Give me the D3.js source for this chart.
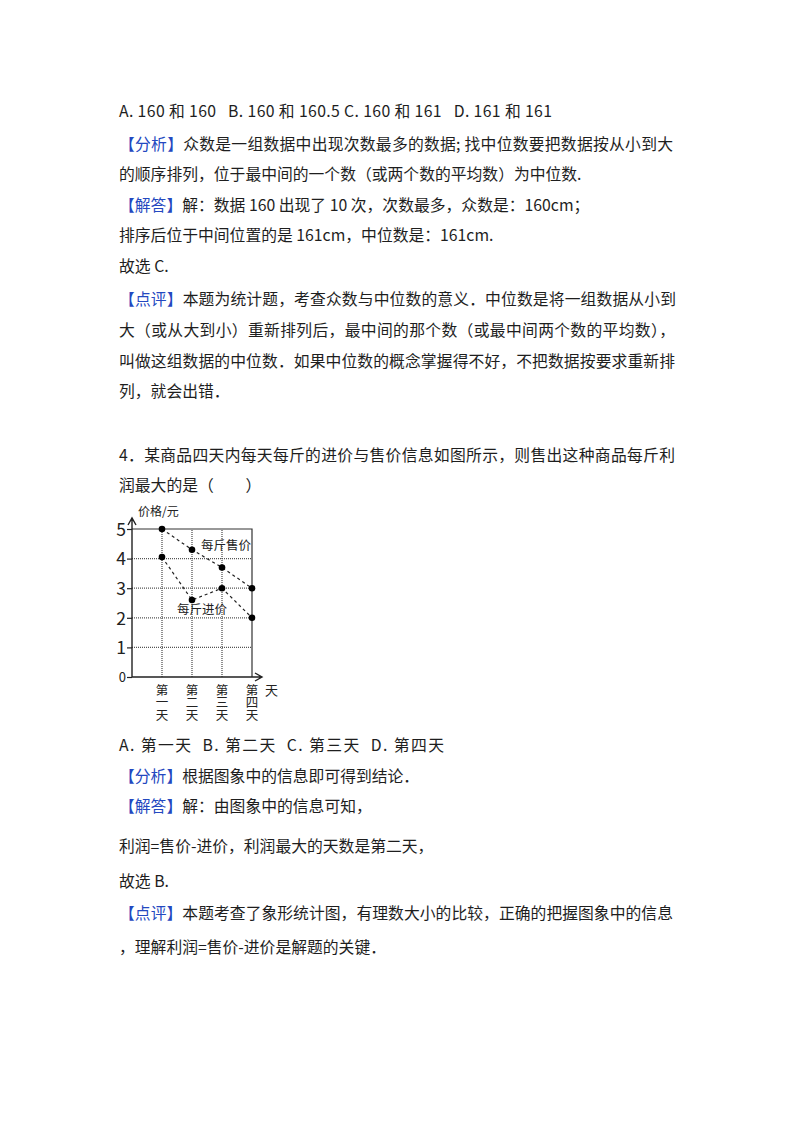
<!DOCTYPE html>
<html lang="zh">
	<head>
		<meta charset="utf-8">
		<title>进价与售价</title>
		<script type="text/javascript" src="https://cdn.jsdelivr.net/npm/d3@7"></script>
		<style type="text/css">
			body { margin: 0; background: #fff; }
			svg { display: block; }
			text { font-family: "Noto Sans CJK SC", "Noto Sans", sans-serif; }
		</style>
	</head>
	<body>
		<script type="text/javascript">
			//Page size
			var w = 794;
			var h = 1123;

			//Chart data
			var days = [1, 2, 3, 4];
			var dayLabels = ["第一天", "第二天", "第三天", "第四天"];
			var sellPrice = [5, 4.3, 3.7, 3];
			var costPrice = [4.05, 2.6, 3, 2];
			var yTicks = [0, 1, 2, 3, 4, 5];

			//Page text, "b" = blue bracket heading
			var lines = [
				{ y: 117, segs: [["A. 160 和 160   B. 160 和 160.5 C. 160 和 161   D. 161 和 161"]], len: 433 },
				{ y: 150, segs: [["【分析】", "b"], ["众数是一组数据中出现次数最多的数据; 找中位数要把数据按从小到大"]], len: 554 },
				{ y: 180, segs: [["的顺序排列，位于最中间的一个数（或两个数的平均数）为中位数."]] },
				{ y: 211, segs: [["【解答】", "b"], ["解：数据 160 出现了 10 次，次数最多，众数是：160cm；"]] },
				{ y: 241, segs: [["排序后位于中间位置的是 161cm，中位数是：161cm."]] },
				{ y: 272, segs: [["故选 C."]] },
				{ y: 305, segs: [["【点评】", "b"], ["本题为统计题，考查众数与中位数的意义．中位数是将一组数据从小到"]], len: 557 },
				{ y: 336, segs: [["大（或从大到小）重新排列后，最中间的那个数（或最中间两个数的平均数），"]], len: 556 },
				{ y: 367, segs: [["叫做这组数据的中位数．如果中位数的概念掌握得不好，不把数据按要求重新排"]], len: 556 },
				{ y: 397, segs: [["列，就会出错．"]] },
				{ y: 461, segs: [["4．某商品四天内每天每斤的进价与售价信息如图所示，则售出这种商品每斤利"]], len: 556 },
				{ y: 491, segs: [["润最大的是（　　）"]] },
				{ y: 751, segs: [["A. 第一天  B. 第二天  C. 第三天  D. 第四天"]], len: 325 },
				{ y: 782, segs: [["【分析】", "b"], ["根据图象中的信息即可得到结论．"]] },
				{ y: 812, segs: [["【解答】", "b"], ["解：由图象中的信息可知，"]] },
				{ y: 852, segs: [["利润=售价-进价，利润最大的天数是第二天，"]] },
				{ y: 887, segs: [["故选 B."]] },
				{ y: 919, segs: [["【点评】", "b"], ["本题考查了象形统计图，有理数大小的比较，正确的把握图象中的信息"]], len: 554 },
				{ y: 953, segs: [["，理解利润=售价-进价是解题的关键．"]] }
			];

			//Create SVG element
			var svg = d3.select("body")
						.append("svg")
						.attr("width", w)
						.attr("height", h);

			svg.append("rect").attr("width", w).attr("height", h).attr("fill", "#fff");

			//Text lines
			var t = svg.selectAll("text.line")
				.data(lines)
				.enter()
				.append("text")
				.attr("class", "line")
				.attr("x", 119)
				.attr("y", function(d) { return d.y; })
				.attr("font-size", 15.8)
				.attr("fill", "#1e1e1e")
				.style("white-space", "pre")
				.each(function(d) {
					if (d.len) {
						d3.select(this).attr("textLength", d.len).attr("lengthAdjust", "spacing");
					}
				});

			t.selectAll("tspan")
				.data(function(d) { return d.segs; })
				.enter()
				.append("tspan")
				.attr("fill", function(s) { return s[1] == "b" ? "#2448c0" : null; })
				.text(function(s) { return s[0]; });

			//Scales
			var x = d3.scaleLinear().domain([0, 4]).range([132, 252]);
			var y = d3.scaleLinear().domain([0, 5]).range([677, 529]);

			var chart = svg.append("g").attr("class", "chart");

			//Dotted grid
			chart.selectAll("line.hgrid")
				.data([1, 2, 3, 4])
				.enter()
				.append("line")
				.attr("x1", x(0)).attr("x2", x(4))
				.attr("y1", function(d) { return y(d); })
				.attr("y2", function(d) { return y(d); })
				.attr("stroke", "#555")
				.attr("stroke-width", 1.3)
				.attr("stroke-dasharray", "1,1");

			chart.selectAll("line.vgrid")
				.data([1, 2, 3])
				.enter()
				.append("line")
				.attr("x1", function(d) { return x(d); })
				.attr("x2", function(d) { return x(d); })
				.attr("y1", y(0)).attr("y2", y(5))
				.attr("stroke", "#555")
				.attr("stroke-width", 1.3)
				.attr("stroke-dasharray", "1,1");

			//Top and right border
			chart.append("path")
				.attr("d", "M" + x(0) + "," + y(5) + "H" + x(4) + "V" + y(0))
				.attr("fill", "none")
				.attr("stroke", "#333")
				.attr("stroke-width", 1.2);

			//Y axis
			var yAxis = d3.axisLeft(y)
				.tickValues(yTicks)
				.tickSize(5)
				.tickPadding(1)
				.tickFormat(d3.format("d"));

			var ya = chart.append("g")
				.attr("transform", "translate(" + x(0) + ",0)")
				.call(yAxis);
			ya.select(".domain").remove();
			ya.selectAll(".tick line").attr("stroke", "#222").attr("stroke-width", 1.2);
			ya.selectAll(".tick text")
				.attr("font-family", "'DejaVu Sans', sans-serif")
				.attr("font-size", function(d) { return d == 0 ? 13 : 17.5; })
				.attr("fill", "#222")
				.attr("dy", "0.36em");

			//Axes lines with arrows
			var axisTop = 518;
			var axisRight = 262;
			chart.append("path")
				.attr("d", "M" + x(0) + "," + y(0) + "V" + axisTop + "M" + (x(0) - 4) + "," + (axisTop + 7) + "L" + x(0) + "," + axisTop + "L" + (x(0) + 4) + "," + (axisTop + 7))
				.attr("fill", "none")
				.attr("stroke", "#222")
				.attr("stroke-width", 1.4);
			chart.append("path")
				.attr("d", "M" + x(0) + "," + y(0) + "H" + axisRight + "M" + (axisRight - 7) + "," + (y(0) - 4) + "L" + axisRight + "," + y(0) + "L" + (axisRight - 7) + "," + (y(0) + 4))
				.attr("fill", "none")
				.attr("stroke", "#222")
				.attr("stroke-width", 1.4);

			//Axis titles
			chart.append("text")
				.attr("x", 138).attr("y", 516)
				.attr("font-size", 12)
				.attr("fill", "#222")
				.text("价格/元");
			chart.append("text")
				.attr("x", 265).attr("y", 695)
				.attr("font-size", 13)
				.attr("fill", "#222")
				.text("天");

			//Day labels, written top to bottom
			chart.selectAll("text.day")
				.data(days)
				.enter()
				.append("text")
				.attr("class", "day")
				.attr("x", function(d) { return x(d); })
				.attr("y", 683.5)
				.attr("font-size", 12.5)
				.attr("fill", "#222")
				.style("writing-mode", "vertical-rl")
				.text(function(d, i) { return dayLabels[i]; });

			//Dashed series lines
			var line = d3.line()
				.x(function(d, i) { return x(days[i]); })
				.y(function(d) { return y(d); });

			[sellPrice, costPrice].forEach(function(s) {
				chart.append("path")
					.attr("d", line(s))
					.attr("fill", "none")
					.attr("stroke", "#222")
					.attr("stroke-width", 1.2)
					.attr("stroke-dasharray", "3,3");

				chart.selectAll(null)
					.data(s)
					.enter()
					.append("circle")
					.attr("cx", function(d, i) { return x(days[i]); })
					.attr("cy", function(d) { return y(d); })
					.attr("r", 3.3)
					.attr("fill", "#000");
			});

			//Series labels
			chart.append("text")
				.attr("x", 201).attr("y", 549.5)
				.attr("font-size", 12.5)
				.attr("fill", "#222")
				.text("每斤售价");
			chart.append("text")
				.attr("x", 177).attr("y", 613.5)
				.attr("font-size", 12.5)
				.attr("fill", "#222")
				.text("每斤进价");
		</script>
	</body>
</html>
